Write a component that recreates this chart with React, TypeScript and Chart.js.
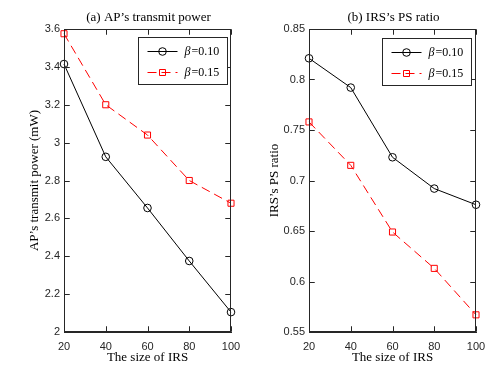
import React, { useEffect, useRef } from 'react';
import { Chart, registerables } from 'chart.js';
Chart.register(...registerables);

const irsSizes = [20, 40, 60, 80, 100];
const powerBeta010 = [3.415, 2.925, 2.655, 2.375, 2.105];
const powerBeta015 = [3.575, 3.2, 3.04, 2.8, 2.68];
const psBeta010 = [0.821, 0.792, 0.723, 0.692, 0.676];
const psBeta015 = [0.758, 0.715, 0.649, 0.613, 0.567];
const betaLabels = ['0.10', '0.15'];
const xTickValues = [20, 40, 60, 80, 100];
const powerTickValues = [2, 2.2, 2.4, 2.6, 2.8, 3, 3.2, 3.4, 3.6];
const psTickValues = [0.55, 0.6, 0.65, 0.7, 0.75, 0.8, 0.85];

const AXIS_COLOR = '#262626';
const SERIF = '"Liberation Serif", "DejaVu Serif", serif';
const SANS = '"Liberation Sans", Arial, sans-serif';

type PanelProps = {
  title: string;
  yLabel: string;
  s1: number[];
  s2: number[];
  yTicks: number[];
  yWidth: number;
  yTitlePad: number;
  padRight: number;
  legendInset: { right: number; top: number };
};

function drawFrame(chart: any, yTicks: number[]) {
  const ctx = chart.ctx;
  const a = chart.chartArea;
  const tl = 5;
  const L = Math.round(a.left) + 0.5;
  const R = Math.round(a.right) - 0.5;
  const T = Math.round(a.top) + 0.5;
  const B = Math.round(a.bottom) - 0.5;
  ctx.save();
  ctx.setLineDash([]);
  ctx.globalAlpha = 1;
  ctx.strokeStyle = AXIS_COLOR;
  ctx.lineWidth = 1;
  ctx.strokeRect(L, T, R - L, B - T);
  const xs = chart.scales.x;
  const ys = chart.scales.y;
  ctx.beginPath();
  xTickValues.forEach((v) => {
    const px = Math.round(xs.getPixelForValue(v)) + 0.5;
    ctx.moveTo(px, B);
    ctx.lineTo(px, B - tl);
    ctx.moveTo(px, T);
    ctx.lineTo(px, T + tl);
  });
  yTicks.forEach((v) => {
    const py = Math.round(ys.getPixelForValue(v)) + 0.5;
    ctx.moveTo(L, py);
    ctx.lineTo(L + tl, py);
    ctx.moveTo(R, py);
    ctx.lineTo(R - tl, py);
  });
  ctx.stroke();
  ctx.restore();
}

const annotPlugin = {
  id: 'annot',
  afterDatasetsDraw(chart: any, _args: any, opts: any) {
    drawFrame(chart, opts.yTicks);
  },
  afterDraw(chart: any, _args: any, opts: any) {
    const ctx = chart.ctx;
    const a = chart.chartArea;
    drawFrame(chart, opts.yTicks);
    ctx.save();
    ctx.fillStyle = '#000';
    ctx.font = `13px ${SERIF}`;
    ctx.textAlign = 'center';
    ctx.textBaseline = 'middle';
    ctx.fillText(opts.title, (a.left + a.right) / 2 + 1, 18);

    const bw = 89, bh = 47;
    const bx = Math.round(a.right - opts.inset.right - bw) + 0.5;
    const by = Math.round(a.top + opts.inset.top) + 0.5;
    ctx.fillStyle = '#fff';
    ctx.fillRect(bx, by, bw, bh);
    ctx.strokeStyle = AXIS_COLOR;
    ctx.lineWidth = 1;
    ctx.setLineDash([]);
    ctx.strokeRect(bx, by, bw, bh);
    const ds = chart.data.datasets;
    [0, 1].forEach((i) => {
      const d = ds[i];
      const ry = Math.round(by + 13 + i * 21) + 0.5;
      ctx.save();
      ctx.strokeStyle = d.borderColor;
      ctx.lineWidth = 1;
      ctx.setLineDash(d.borderDash || []);
      ctx.beginPath();
      ctx.moveTo(bx + 9, ry);
      ctx.lineTo(bx + 39, ry);
      ctx.stroke();
      ctx.setLineDash([]);
      ctx.beginPath();
      if (d.pointStyle === 'rect') {
        ctx.rect(bx + 24 - 3, ry - 3, 6, 6);
      } else {
        ctx.arc(bx + 24, ry, 3.8, 0, Math.PI * 2);
      }
      ctx.stroke();
      ctx.restore();
      ctx.fillStyle = '#000';
      ctx.textAlign = 'left';
      ctx.textBaseline = 'middle';
      ctx.font = `italic 12px ${SERIF}`;
      const tx = bx + 46;
      ctx.fillText('β', tx, ry);
      const w = ctx.measureText('β').width;
      ctx.font = `12px ${SERIF}`;
      ctx.fillText('=' + betaLabels[i], tx + w + 1, ry);
    });
    ctx.restore();
  },
};

function fmt(v: number) {
  return String(parseFloat(v.toFixed(2)));
}

const borderOpts = { display: true, color: AXIS_COLOR, width: 1 };

function Panel(p: PanelProps) {
  const ref = useRef<HTMLCanvasElement>(null);
  useEffect(() => {
    const chart = new Chart(ref.current!, {
      type: 'line',
      data: {
        datasets: [
          {
            label: 'β=' + betaLabels[0],
            data: irsSizes.map((x, i) => ({ x, y: p.s1[i] })),
            borderColor: '#000000',
            backgroundColor: 'rgba(0,0,0,0)',
            borderWidth: 1,
            pointStyle: 'circle',
            pointRadius: 3.8,
            pointBorderWidth: 1,
            pointBackgroundColor: 'rgba(0,0,0,0)',
            tension: 0,
            clip: false,
          },
          {
            label: 'β=' + betaLabels[1],
            data: irsSizes.map((x, i) => ({ x, y: p.s2[i] })),
            borderColor: '#ff0000',
            backgroundColor: 'rgba(0,0,0,0)',
            borderWidth: 1,
            borderDash: [9, 5],
            pointStyle: 'rect',
            pointRadius: 4.3,
            pointBorderWidth: 1,
            pointBackgroundColor: 'rgba(0,0,0,0)',
            tension: 0,
            clip: false,
          },
        ],
      },
      options: {
        responsive: false,
        animation: false,
        layout: { padding: { left: 0, right: p.padRight, top: 29, bottom: 0 } },
        plugins: {
          legend: { display: false },
          title: { display: false },
          tooltip: { enabled: false },
          annot: { title: p.title, inset: p.legendInset, yTicks: p.yTicks },
        } as any,
        scales: {
          x: {
            type: 'linear',
            min: 20,
            max: 100,
            grid: { display: false, drawTicks: false },
            border: borderOpts,
            afterBuildTicks: (axis: any) => {
              axis.ticks = xTickValues.map((v) => ({ value: v }));
            },
            afterFit: (axis: any) => {
              axis.height = 42;
            },
            ticks: {
              color: AXIS_COLOR,
              font: { family: SANS, size: 11 },
              padding: 8,
              maxRotation: 0,
              callback: (v: any) => fmt(Number(v)),
            },
            title: {
              display: true,
              text: 'The size of IRS',
              color: '#000',
              font: { family: SERIF, size: 13 },
              padding: { top: 0, bottom: 9 },
            },
          },
          y: {
            type: 'linear',
            min: p.yTicks[0],
            max: p.yTicks[p.yTicks.length - 1],
            grid: { display: false, drawTicks: false },
            border: borderOpts,
            afterBuildTicks: (axis: any) => {
              axis.ticks = p.yTicks.map((v) => ({ value: v }));
            },
            afterFit: (axis: any) => {
              axis.width = p.yWidth;
            },
            ticks: {
              color: AXIS_COLOR,
              font: { family: SANS, size: 11 },
              padding: 4,
              callback: (v: any) => fmt(Number(v)),
            },
            title: {
              display: true,
              text: p.yLabel,
              color: '#000',
              font: { family: SERIF, size: 13 },
              padding: { top: p.yTitlePad, bottom: 0 },
            },
          },
        },
      },
      plugins: [annotPlugin],
    } as any);
    return () => chart.destroy();
  }, []);
  return <canvas ref={ref} width={249} height={374} style={{ display: 'block' }} />;
}

export default function App() {
  return (
    <div style={{ position: 'fixed', left: 0, top: 0, width: 498, height: 374, background: '#fff', display: 'flex' }}>
      <Panel
        title="(a) AP’s transmit power"
        yLabel="AP’s transmit power (mW)"
        s1={powerBeta010}
        s2={powerBeta015}
        yTicks={powerTickValues}
        yWidth={64}
        yTitlePad={27}
        padRight={18}
        legendInset={{ right: 4, top: 8 }}
      />
      <Panel
        title="(b) IRS’s PS ratio"
        yLabel="IRS’s PS ratio"
        s1={psBeta010}
        s2={psBeta015}
        yTicks={psTickValues}
        yWidth={60}
        yTitlePad={18}
        padRight={22}
        legendInset={{ right: 5, top: 9 }}
      />
    </div>
  );
}
